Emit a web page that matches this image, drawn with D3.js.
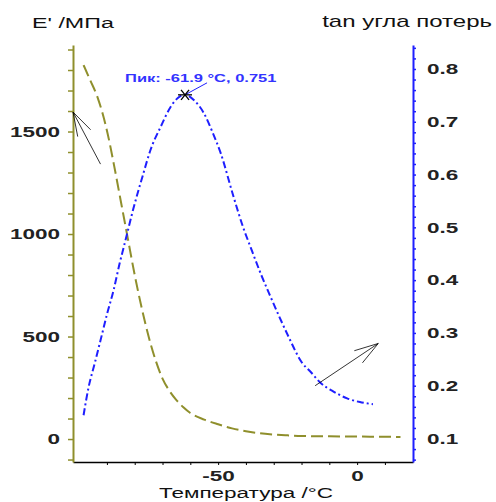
<!DOCTYPE html>
<html>
<head>
<meta charset="utf-8">
<script src="https://cdn.jsdelivr.net/npm/d3@7"></script>
<style>
  body { margin: 0; background: #fff; }
  svg { font-family: "Liberation Sans", Arial, sans-serif; }
</style>
</head>
<body>
<div class="chart"></div>
<script>
// storage modulus E' (MPa) vs temperature
var tempE = [-98.4, -96, -93.4, -91.5, -89.8, -87.5, -85, -82.5, -80, -77.5, -75, -72.5, -70, -67.5,
  -65, -62.5, -60, -55, -50, -45, -40, -35, -30, -25, -20, -10, 0, 10, 15.6];
var modE = [1824, 1750, 1668, 1585, 1493, 1340, 1160, 980, 800, 640, 500, 385, 295, 235,
  190, 155, 127, 95, 72, 52, 38, 28, 22, 18, 15, 13, 12, 11, 10];

// loss tangent vs temperature
var tempTan = [-98.4, -96.6, -94.5, -92.3, -90, -87.6, -85.5, -83.3, -80.5, -77, -74.3, -70.7, -67.1,
  -64.5, -61.9, -58.5, -55.2, -52, -49.1, -44.4, -41, -38.3, -34.5, -31.1, -27.5, -24.6, -20,
  -16.5, -13.3, -8.5, -3.6, 1, 5.7];
var tanD = [0.144, 0.197, 0.24, 0.286, 0.335, 0.381, 0.43, 0.476, 0.535, 0.6, 0.647, 0.69, 0.728,
  0.745, 0.751, 0.74, 0.717, 0.68, 0.641, 0.557, 0.5, 0.462, 0.41, 0.368, 0.325, 0.292, 0.245,
  0.225, 0.206, 0.189, 0.176, 0.169, 0.165];

var peak = { t: -61.9, v: 0.751 };

var xTicks = d3.range(-90, 11, 10);
var xLabels = [-50, 0];
var yLeftTicks = d3.range(-100, 1901, 100);
var yLeftLabels = [0, 500, 1000, 1500];
var yRightTicks = d3.range(3, 43).map(function(i) { return i / 50; });

var svgWidth = 496;
var svgHeight = 502;
var margin = { top: 45, right: 83, bottom: 40, left: 73 };
var width = svgWidth - margin.left - margin.right;
var height = svgHeight - margin.top - margin.bottom;

var olive = "#8f8f2c";
var blue = "#1f1fff";
var sx = 1.5; // text in the reference is stretched sideways

var svg = d3.select(".chart").append("svg")
  .attr("width", svgWidth)
  .attr("height", svgHeight);

var chart = svg.append("g")
  .attr("transform", "translate(" + margin.left + "," + margin.top + ")");

var xScale = d3.scaleLinear().domain([-102.2, 20.1]).range([0, width]);
var yLeft = d3.scaleLinear().domain([-112, 1922]).range([height, 0]);
var yRight = d3.scaleLinear().domain([0.0555, 0.8454]).range([height, 0]);

function stretch(sel) {
  sel.each(function() {
    var t = d3.select(this);
    var x = +t.attr("x") || 0;
    var y = +t.attr("y") || 0;
    t.attr("x", null).attr("y", null)
      .attr("transform", "translate(" + x + "," + y + ") scale(" + sx + ",1)");
  });
}

// axes
var bottomAxis = d3.axisBottom(xScale)
  .tickValues(xTicks)
  .tickSize(3).tickSizeOuter(0).tickPadding(5)
  .tickFormat(function(d) { return xLabels.indexOf(d) >= 0 ? d : ""; });

var leftAxis = d3.axisLeft(yLeft)
  .tickValues(yLeftTicks)
  .tickSize(5).tickSizeOuter(0).tickPadding(8)
  .tickFormat(function(d) { return yLeftLabels.indexOf(d) >= 0 ? d : ""; });

var rightAxis = d3.axisRight(yRight)
  .tickValues(yRightTicks)
  .tickSize(3).tickSizeOuter(0).tickPadding(11)
  .tickFormat(function(d) { return Math.round(d * 50) % 5 === 0 ? d3.format(".1f")(d) : ""; });

var gx = chart.append("g")
  .attr("class", "x-axis")
  .attr("transform", "translate(0," + height + ")")
  .call(bottomAxis);
gx.select(".domain").attr("stroke", "#000").attr("stroke-width", 1.5);

var gl = chart.append("g").attr("class", "y-axis").call(leftAxis);
gl.select(".domain").attr("stroke", olive).attr("stroke-width", 2);
gl.selectAll(".tick line").attr("stroke", olive).attr("stroke-width", 1.5);

var gr = chart.append("g")
  .attr("class", "y-axis-right")
  .attr("transform", "translate(" + width + ",0)")
  .call(rightAxis);
gr.select(".domain").attr("stroke", blue).attr("stroke-width", 2);
gr.selectAll(".tick line").attr("stroke", blue).attr("stroke-width", 1.5);

chart.selectAll(".tick text")
  .attr("fill", "#222")
  .style("font-size", "15px")
  .style("font-weight", "bold")
  .call(stretch);

// curves
var eLine = d3.line()
  .x(function(d, i) { return xScale(tempE[i]); })
  .y(function(d) { return yLeft(d); })
  .curve(d3.curveMonotoneX);

var tanLine = d3.line()
  .x(function(d, i) { return xScale(tempTan[i]); })
  .y(function(d) { return yRight(d); })
  .curve(d3.curveMonotoneX);

chart.append("path")
  .datum(modE)
  .attr("d", eLine)
  .attr("fill", "none")
  .attr("stroke", olive)
  .attr("stroke-width", 2)
  .attr("stroke-dasharray", "12,5");

chart.append("path")
  .datum(tanD)
  .attr("d", tanLine)
  .attr("fill", "none")
  .attr("stroke", blue)
  .attr("stroke-width", 2)
  .attr("stroke-dasharray", "7,3,2,3");

// peak marker and label
var px = xScale(peak.t);
var py = yRight(peak.v);

chart.append("line")
  .attr("x1", px).attr("y1", py)
  .attr("x2", px + 22).attr("y2", py - 12)
  .attr("stroke", blue).attr("stroke-width", 1);

var star = chart.append("g").attr("transform", "translate(" + px + "," + py + ")");
[[-7, 0, 7, 0], [-4, -5, 4, 5], [-4, 5, 4, -5]].forEach(function(s) {
  star.append("line")
    .attr("x1", s[0]).attr("y1", s[1]).attr("x2", s[2]).attr("y2", s[3])
    .attr("stroke", "#000").attr("stroke-width", 1.3);
});

chart.append("text")
  .attr("x", px - 60).attr("y", py - 13)
  .attr("fill", "#3333ff")
  .style("font-size", "11px")
  .style("font-weight", "bold")
  .text("Пик: " + peak.t + " °C, " + peak.v)
  .call(stretch);

// arrows pointing to each curve's axis
function arrow(x1, y1, x2, y2) {
  var a = Math.atan2(y1 - y2, x1 - x2);
  var len = 25, spread = 17 * Math.PI / 180;
  var g = chart.append("g").attr("stroke", "#000").attr("stroke-width", 0.8);
  g.append("line").attr("x1", x1).attr("y1", y1).attr("x2", x2).attr("y2", y2);
  [-spread, spread].forEach(function(s) {
    g.append("line")
      .attr("x1", x2).attr("y1", y2)
      .attr("x2", x2 + len * Math.cos(a + s))
      .attr("y2", y2 + len * Math.sin(a + s));
  });
}
arrow(xScale(-92.3), yLeft(1341), xScale(-102.2), yLeft(1595));
arrow(xScale(-15.1), yRight(0.2), xScale(7.6), yRight(0.28));

// titles
svg.append("text")
  .attr("x", 32).attr("y", 28)
  .attr("fill", "#111")
  .style("font-size", "15.5px")
  .text("E' /МПа")
  .call(stretch);

svg.append("text")
  .attr("x", 492).attr("y", 27)
  .attr("text-anchor", "end")
  .attr("fill", "#111")
  .style("font-size", "16px")
  .text("tan угла потерь")
  .call(stretch);

svg.append("text")
  .attr("x", margin.left + xScale(-40)).attr("y", 498)
  .attr("text-anchor", "middle")
  .attr("fill", "#111")
  .style("font-size", "15px")
  .text("Температура /°C")
  .call(stretch);
</script>
</body>
</html>
